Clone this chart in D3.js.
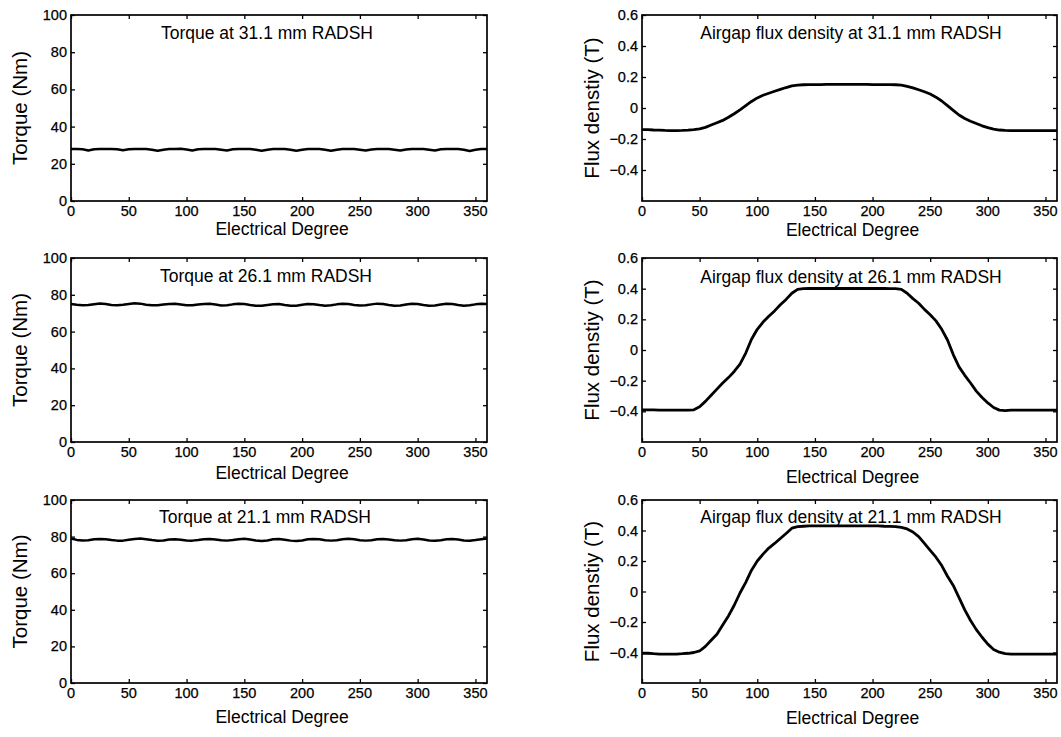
<!DOCTYPE html>
<html>
<head>
<meta charset="utf-8">
<script src="https://cdn.jsdelivr.net/npm/d3@7/dist/d3.min.js"></script>
<style>
  html, body { margin: 0; padding: 0; background: #fff; }
  svg { display: block; font-family: Arial, "Liberation Sans", sans-serif; }
  .tick-label { font-size: 14.5px; fill: #000; stroke: #000; stroke-width: 0.25px; }
  .axis-label { font-size: 17.5px; fill: #000; }
  .ylabel { font-size: 20.5px; fill: #000; }
  .panel-title { font-size: 17.5px; fill: #000; }
</style>
</head>
<body>
<svg id="chart" width="1061" height="737"></svg>
<script>
// Rotor position samples (electrical degrees)
const degrees = [0,5,10,15,20,25,30,35,40,45,50,55,60,65,70,75,80,85,90,95,100,105,110,115,120,125,130,135,140,145,150,155,160,165,170,175,180,185,190,195,200,205,210,215,220,225,230,235,240,245,250,255,260,265,270,275,280,285,290,295,300,305,310,315,320,325,330,335,340,345,350,355,360];

// Torque waveforms (Nm)
const torque31 = [28,28,27.8,27.2,27.8,28,28,28,27.8,27.3,27.8,28,28,28,27.6,27,27.6,28,28,28.1,27.7,27.2,27.8,28,28,28,27.6,27.2,27.8,28,28,28,27.6,27,27.6,28,28,28,27.6,27,27.6,28,28,28,27.6,27,27.6,28,28,28,27.6,27.1,27.7,28,28,28,27.6,27.1,27.7,28,28,28,27.6,27.2,27.8,28,28,28,27.6,26.9,27.5,28,28];
const torque26 = [75,74.6,74.3,74.4,74.9,75.3,75,74.5,74.3,74.6,75,75.4,75.2,74.6,74.3,74.3,74.7,75,75.1,74.7,74.3,74.3,74.7,75,75.1,74.7,74.2,74.3,74.8,75.1,75,74.5,74.1,74,74.5,74.9,75,74.5,74.1,74.1,74.6,75,74.9,74.4,74.1,74.3,74.8,75.1,75,74.5,74.2,74.3,74.8,75.2,75,74.5,74.1,74.2,74.7,75.1,75,74.5,74.1,74.2,74.7,75.1,75,74.5,74.1,74.3,74.8,75.1,75];
const torque21 = [79,78.2,77.9,78,78.5,78.7,78.5,78.1,77.8,77.8,78.3,78.7,79,78.6,78.1,77.7,77.9,78.4,78.6,78.3,77.9,77.8,78.1,78.5,78.7,78.4,78,77.8,78.1,78.6,78.8,78.4,77.9,77.6,77.9,78.5,78.7,78.3,77.8,77.6,77.9,78.5,78.7,78.5,78,77.8,78,78.5,78.8,78.5,78,77.8,78,78.5,78.7,78.4,78,77.8,78,78.5,78.8,78.4,77.9,77.7,78,78.5,78.7,78.4,77.9,77.7,78.1,78.6,79];

// Airgap flux density waveforms (T)
const flux31 = [-0.14,-0.14,-0.142,-0.143,-0.145,-0.146,-0.146,-0.145,-0.143,-0.14,-0.135,-0.125,-0.11,-0.095,-0.08,-0.06,-0.037,-0.012,0.015,0.042,0.065,0.082,0.095,0.108,0.12,0.132,0.143,0.148,0.15,0.151,0.151,0.151,0.152,0.152,0.152,0.152,0.152,0.152,0.152,0.152,0.151,0.151,0.151,0.151,0.15,0.148,0.14,0.13,0.118,0.105,0.09,0.07,0.045,0.015,-0.015,-0.045,-0.068,-0.085,-0.1,-0.115,-0.127,-0.136,-0.142,-0.145,-0.146,-0.146,-0.146,-0.146,-0.146,-0.146,-0.146,-0.146,-0.146];
const flux26 = [-0.39,-0.39,-0.39,-0.392,-0.392,-0.392,-0.392,-0.392,-0.392,-0.39,-0.37,-0.335,-0.295,-0.255,-0.215,-0.18,-0.14,-0.092,-0.02,0.07,0.135,0.182,0.22,0.255,0.295,0.33,0.37,0.395,0.4,0.401,0.401,0.401,0.401,0.401,0.401,0.401,0.401,0.401,0.401,0.401,0.401,0.401,0.401,0.4,0.4,0.395,0.37,0.335,0.305,0.265,0.23,0.19,0.135,0.065,-0.03,-0.11,-0.165,-0.215,-0.268,-0.31,-0.345,-0.375,-0.392,-0.395,-0.392,-0.392,-0.392,-0.392,-0.392,-0.392,-0.392,-0.392,-0.392];
const flux21 = [-0.405,-0.405,-0.408,-0.41,-0.41,-0.41,-0.41,-0.408,-0.405,-0.4,-0.39,-0.36,-0.32,-0.28,-0.22,-0.16,-0.09,-0.01,0.06,0.14,0.2,0.245,0.285,0.315,0.348,0.38,0.415,0.425,0.428,0.43,0.43,0.43,0.43,0.43,0.43,0.43,0.43,0.43,0.43,0.43,0.43,0.43,0.428,0.427,0.425,0.42,0.41,0.39,0.36,0.315,0.27,0.225,0.17,0.1,0.04,-0.04,-0.12,-0.19,-0.25,-0.3,-0.345,-0.38,-0.398,-0.408,-0.41,-0.41,-0.41,-0.41,-0.41,-0.41,-0.41,-0.41,-0.41];

// Axis ticks
const degreeTicks = [0,50,100,150,200,250,300,350];
const torqueTicks = [0,20,40,60,80,100];
const fluxTicks = [-0.4,-0.2,0,0.2,0.4,0.6];

// Titles
const torqueTitles = ["Torque at 31.1 mm RADSH", "Torque at 26.1 mm RADSH", "Torque at 21.1 mm RADSH"];
const fluxTitles = ["Airgap flux density at 31.1 mm RADSH", "Airgap flux density at 26.1 mm RADSH", "Airgap flux density at 21.1 mm RADSH"];

const torqueSeries = [torque31, torque26, torque21];
const fluxSeries = [flux31, flux26, flux21];

const svg = d3.select("#chart");

// Panel frames with x-label baseline and title placement
const leftFrames = [
  {x0: 71, y0: 15, x1: 487, y1: 201, xlab: 235, ty: 39, tx: 267},
  {x0: 71, y0: 258, x1: 487, y1: 442, xlab: 479, ty: 282, tx: 266},
  {x0: 71, y0: 500, x1: 487, y1: 683, xlab: 723, ty: 523, tx: 265}
];
const rightFrames = [
  {x0: 642, y0: 15, x1: 1057, y1: 201, xlab: 236, ty: 39, tx: 851},
  {x0: 642, y0: 258, x1: 1057, y1: 442, xlab: 483, ty: 283, tx: 851},
  {x0: 642, y0: 500, x1: 1057, y1: 683, xlab: 724, ty: 523, tx: 851}
];

function drawPanel(f, values, yDomain, yTicks, yFmt, title, ylabel, ylabX, strokeW) {
  const x = d3.scaleLinear().domain([0, 360]).range([f.x0, f.x1]);
  const y = d3.scaleLinear().domain(yDomain).range([f.y1, f.y0]);
  const g = svg.append("g");

  // Curve
  const line = d3.line().x((d, i) => x(degrees[i])).y(d => y(d));
  g.append("path")
    .datum(values)
    .attr("d", line)
    .attr("fill", "none")
    .attr("stroke", "#000")
    .attr("stroke-width", strokeW)
    .attr("stroke-linejoin", "round");

  // Inward ticks on all four sides
  const tl = 4;
  g.append("g").attr("transform", `translate(0,${f.y1})`)
    .call(d3.axisBottom(x).tickValues(degreeTicks).tickSize(-tl).tickFormat(""))
    .call(a => a.select(".domain").remove());
  g.append("g").attr("transform", `translate(0,${f.y0})`)
    .call(d3.axisTop(x).tickValues(degreeTicks).tickSize(-tl).tickFormat(""))
    .call(a => a.select(".domain").remove());
  g.append("g").attr("transform", `translate(${f.x0},0)`)
    .call(d3.axisLeft(y).tickValues(yTicks).tickSize(-tl).tickFormat(""))
    .call(a => a.select(".domain").remove());
  g.append("g").attr("transform", `translate(${f.x1},0)`)
    .call(d3.axisRight(y).tickValues(yTicks).tickSize(-tl).tickFormat(""))
    .call(a => a.select(".domain").remove());
  g.selectAll(".tick line").attr("stroke", "#000").attr("stroke-width", 1.3);

  // Frame
  g.append("rect")
    .attr("x", f.x0).attr("y", f.y0)
    .attr("width", f.x1 - f.x0).attr("height", f.y1 - f.y0)
    .attr("fill", "none").attr("stroke", "#000").attr("stroke-width", 1.7);

  // Tick labels
  g.selectAll(".xl").data(degreeTicks).enter().append("text")
    .attr("class", "tick-label")
    .attr("x", d => x(d)).attr("y", f.y1 + 15)
    .attr("text-anchor", "middle")
    .text(d => d);
  g.selectAll(".yl").data(yTicks).enter().append("text")
    .attr("class", "tick-label")
    .attr("x", f.x0 - 4).attr("y", d => y(d) + 5)
    .attr("text-anchor", "end")
    .text(yFmt);

  // Axis labels
  g.append("text").attr("class", "axis-label")
    .attr("x", (f.x0 + f.x1) / 2 + 3).attr("y", f.xlab)
    .attr("text-anchor", "middle")
    .text("Electrical Degree");
  g.append("text").attr("class", "ylabel")
    .attr("transform", `translate(${ylabX},${(f.y0 + f.y1) / 2}) rotate(-90)`)
    .attr("text-anchor", "middle")
    .attr("dy", "0.35em")
    .text(ylabel);

  // Title inside the frame
  g.append("text").attr("class", "panel-title")
    .attr("x", f.tx).attr("y", f.ty)
    .attr("text-anchor", "middle")
    .text(title);
}

const fluxFmt = d => d === 0 ? "0" : d3.format(".1f")(d);

leftFrames.forEach((f, i) => {
  drawPanel(f, torqueSeries[i], [0, 100], torqueTicks, d => d, torqueTitles[i], "Torque (Nm)", 20, 2.5);
});
rightFrames.forEach((f, i) => {
  drawPanel(f, fluxSeries[i], [-0.6, 0.6], fluxTicks, fluxFmt, fluxTitles[i], "Flux denstiy (T)", 592, 2.8);
});
</script>
</body>
</html>
